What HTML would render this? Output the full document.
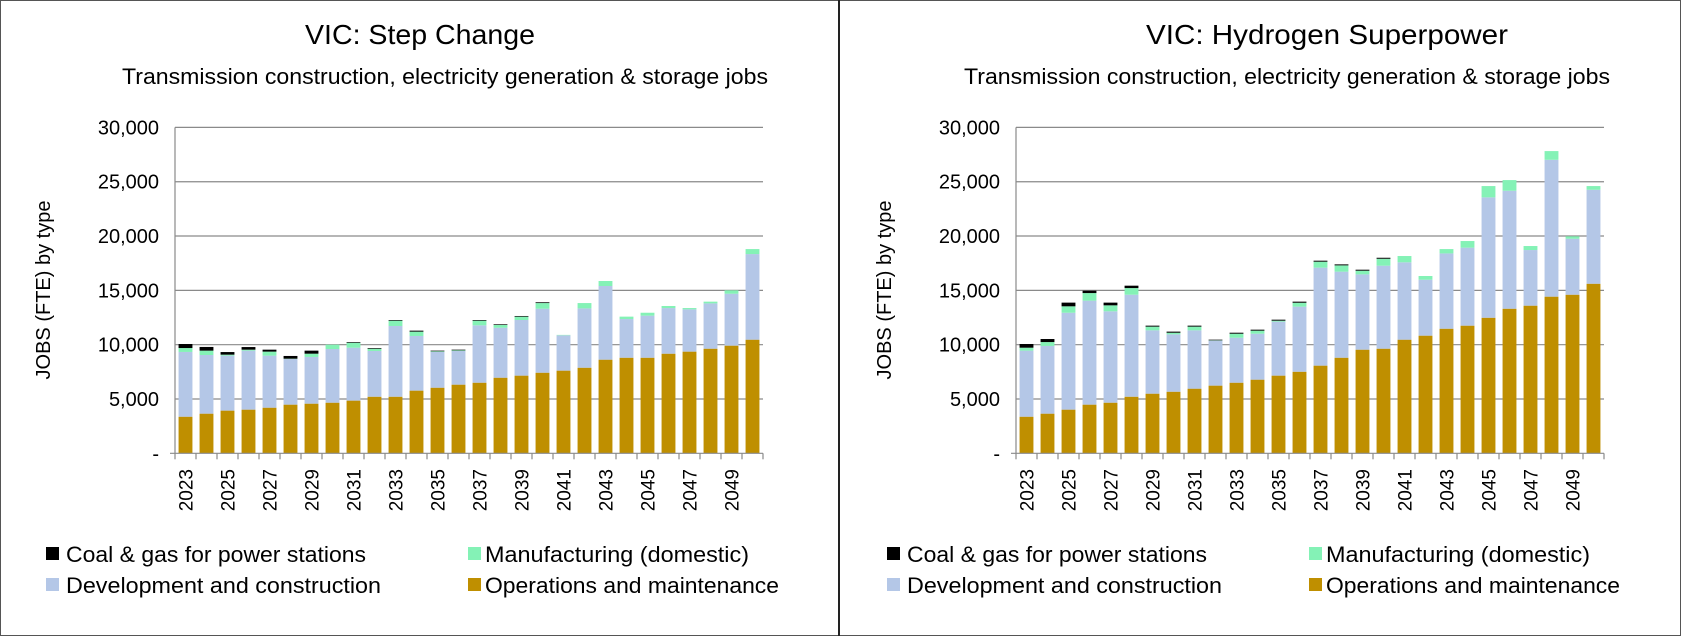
<!DOCTYPE html>
<html><head><meta charset="utf-8"><style>
html,body{margin:0;padding:0;background:#fff}
svg{display:block}
text{font-family:"Liberation Sans",sans-serif;fill:#000}
</style></head><body>
<svg id="root" width="1681" height="636" viewBox="0 0 1681 636" xmlns="http://www.w3.org/2000/svg">
<rect x="0.5" y="0.5" width="1680" height="635" fill="#fff" stroke="#555"/>
<line x1="839" y1="0" x2="839" y2="636" stroke="#222" stroke-width="2"/>
</svg>
<script>
const years=[2023,2024,2025,2026,2027,2028,2029,2030,2031,2032,2033,2034,2035,2036,2037,2038,2039,2040,2041,2042,2043,2044,2045,2046,2047,2048,2049,2050];
const yTicks=[0,5000,10000,15000,20000,25000,30000];
const yTickLabels=["-","5,000","10,000","15,000","20,000","25,000","30,000"];
// Step Change: O&M values and cumulative tops
const scOm=[3370,3650,3930,4020,4200,4480,4570,4660,4850,5210,5210,5770,6040,6320,6500,6960,7150,7420,7610,7880,8620,8800,8800,9170,9360,9630,9910,10460];
const scDevTop=[9330,9050,8990,9450,8990,8680,8870,9600,9720,9420,11720,10800,9330,9420,11780,11560,12270,13310,10860,13340,15400,12360,12670,13370,13250,13800,14690,18340];
const scMfgTop=[9690,9450,9080,9540,9360,8710,9170,10000,10180,9630,12210,11200,9390,9480,12210,11810,12580,13830,10900,13830,15860,12580,12940,13560,13370,13960,15000,18800];
const scCoalTop=[10060,9790,9320,9780,9540,8960,9450,10000,10240,9690,12270,11290,9450,9540,12270,11870,12640,13900,10900,13830,15860,12580,12940,13560,13370,13960,15000,18800];
// Hydrogen Superpower
const hsOm=[3370,3650,4020,4480,4660,5210,5490,5670,5950,6230,6500,6780,7150,7510,8070,8800,9540,9630,10460,10830,11470,11750,12480,13310,13590,14420,14600,15610];
const hsDevTop=[9450,9880,12940,14050,13070,14600,11320,10950,11320,10370,10640,11010,12120,13500,17090,16720,16470,17270,17580,15980,18400,18930,23560,24170,18710,27020,19750,24260];
const hsMfgTop=[9720,10240,13530,14750,13620,15210,11660,11100,11660,10400,11010,11290,12210,13860,17640,17300,16810,17910,18160,16320,18800,19540,24600,25150,19080,27820,19970,24600];
const hsCoalTop=[10060,10520,13870,14970,13870,15430,11750,11200,11750,10460,11100,11380,12300,13960,17730,17390,16900,18000,18160,16320,18800,19540,24600,25150,19080,27820,19970,24600];

const NS="http://www.w3.org/2000/svg";
const root=document.getElementById('root');
function mk(tag,attrs,parent,txt){const e=document.createElementNS(NS,tag);for(const k in attrs)e.setAttribute(k,attrs[k]);if(txt!==undefined)e.textContent=txt;(parent||root).appendChild(e);return e;}
const COL={om:"#BF8F00",dev:"#B4C7E7",mfg:"#84F2B6",coal:"#000"};

function chart(ox,title,titleX,subX,om,devTop,mfgTop,coalTop,name){
  const g=mk('g',{});
  
  
  const x0=175+ox,x1=763+ox,yTop=127.4,yBot=453.3,maxV=30000;
  const ys=v=>yBot-(v/maxV)*(yBot-yTop);
  const bw=(x1-x0)/years.length;
  const xs=i=>x0+bw*i;
  const t=mk('text',{x:titleX,y:44,'font-size':28,'text-anchor':'middle',textLength:title.length>18?362:230,lengthAdjust:'spacingAndGlyphs'},g,title);
  
  
  const s=mk('text',{x:subX,y:84,'font-size':22,'text-anchor':'middle',textLength:646,lengthAdjust:'spacingAndGlyphs'},g,'Transmission construction, electricity generation & storage jobs');
  
  
  yTicks.forEach((v,i)=>{
    const y=ys(v);
    if(v>0){const l=mk('line',{x1:x0,x2:x1,y1:y,y2:y,stroke:'#8a8a8a','stroke-width':1.2},g);
      
      }
    const tl=mk('text',{x:159+ox,y:y+7,'font-size':20,'text-anchor':'end'},g,yTickLabels[i]);
    
    
  });
  const yt=mk('text',{x:0,y:0,'font-size':20,'text-anchor':'middle',transform:`translate(${50+ox},290) rotate(-90)`},g,'JOBS (FTE) by type');
  
  
  years.forEach((yr,i)=>{
    const cx=xs(i)+bw/2, w=bw*0.66, bx=cx-w/2;
    const segs=[[0,om[i],COL.om,'bar-om'],[om[i],devTop[i],COL.dev,'bar-dev'],[devTop[i],mfgTop[i],COL.mfg,'bar-mfg'],[mfgTop[i],coalTop[i],COL.coal,'bar-coal']];
    segs.forEach(sg=>{
      if(sg[1]-sg[0]<=0)return;
      const r=mk('rect',{x:bx,y:ys(sg[1]),width:w,height:ys(sg[0])-ys(sg[1]),fill:sg[2]},g);
      
      
    });
    if(i%2===0){
      const xl=mk('text',{x:0,y:0,'font-size':19,'text-anchor':'end',transform:`translate(${cx+7},${469}) rotate(-90)`},g,String(yr));
      
      
    }
  });
  const ax=mk('line',{x1:x0,x2:x0,y1:yTop,y2:yBot,stroke:'#8a8a8a','stroke-width':1.2},g);
  
  
  const bx2=mk('line',{x1:x0-5,x2:x1,y1:yBot,y2:yBot,stroke:'#8a8a8a','stroke-width':1.2},g);
  
  
  for(let i=0;i<=years.length;i++){
    const tk=mk('line',{x1:xs(i),x2:xs(i),y1:yBot,y2:yBot+6,stroke:'#8a8a8a','stroke-width':1.2},g);
    
    
  }
  const leg=[[46,66,554,COL.coal,'Coal & gas for power stations',300],[468,485,554,COL.mfg,'Manufacturing (domestic)',264],[46,66,585,COL.dev,'Development and construction',315],[468,485,585,COL.om,'Operations and maintenance',294]];
  leg.forEach(L=>{
    const r=mk('rect',{x:L[0]+ox,y:L[2]-7,width:13,height:13,fill:L[3]},g);
    
    
    const tx=mk('text',{x:L[1]+ox,y:L[2]+8,'font-size':22,textLength:L[5],lengthAdjust:'spacingAndGlyphs'},g,L[4]);
    
    
  });
}
chart(0,'VIC: Step Change',420,445,scOm,scDevTop,scMfgTop,scCoalTop,'step-change-chart');
chart(841,'VIC: Hydrogen Superpower',1327,1287,hsOm,hsDevTop,hsMfgTop,hsCoalTop,'hydrogen-superpower-chart');
</script>
</body></html>
